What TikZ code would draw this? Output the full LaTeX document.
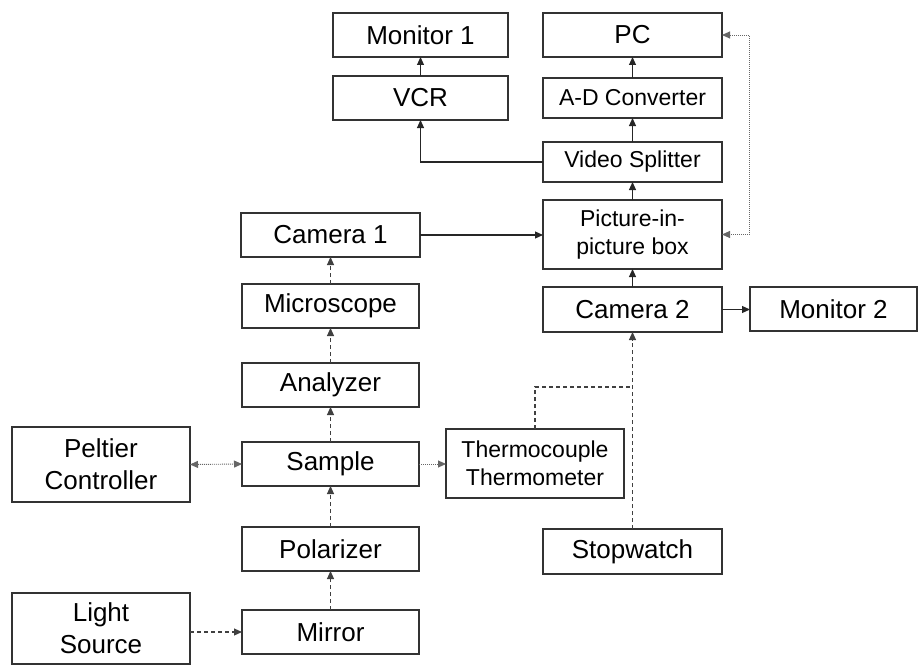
\documentclass[tikz,border=0pt]{standalone}
\usepackage{fontspec}
\setmainfont{Liberation Sans}
\usetikzlibrary{arrows.meta}
\tikzset{
  box/.style={draw=black!80, line width=1.1pt, fill=white, inner sep=0pt, outer sep=0pt,
    align=center, font=\fontsize{26}{32}\selectfont},
  smalltext/.style={font=\fontsize{23}{28}\selectfont},
  tip/.style={-{Triangle[length=8pt,width=7pt]}},
  solidline/.style={draw=black!85, line width=1.1pt, tip},
  dashline/.style={draw=black!75, line width=1.1pt, dash pattern=on 4pt off 3pt},
  dotline/.style={draw=black!60, line width=0.9pt, dash pattern=on 1pt off 1pt},
}
\begin{document}
\begin{tikzpicture}[x=1pt,y=-1pt]
\useasboundingbox (0,0) rectangle (920,666);
% nodes
\node[box, minimum width=175pt, minimum height=44pt] (mon1) at (420.5,35) {Monitor 1};
\node[box, minimum width=175pt, minimum height=44pt] (vcr) at (420.5,98) {VCR};
\node[box, minimum width=179pt, minimum height=44pt] (pc) at (632.5,35) {PC};
\node[box, smalltext, minimum width=179pt, minimum height=40pt] (adc) at (632.5,98) {A-D Converter};
\node[box, smalltext, minimum width=179pt, minimum height=40pt] (split) at (632.5,162) {Video Splitter};
\node[box, smalltext, minimum width=179pt, minimum height=69pt] (pip) at (632.5,234.5) {Picture-in-\\picture box};
\node[box, minimum width=179pt, minimum height=44pt] (cam1) at (330.5,235) {Camera 1};
\node[box, minimum width=179pt, minimum height=45pt] (cam2) at (632.5,309.5) {Camera 2};
\node[box, minimum width=167pt, minimum height=44pt] (mon2) at (833.5,309) {Monitor 2};
\node[box, minimum width=177pt, minimum height=44pt] (micro) at (330.5,306) {Microscope};
\node[box, minimum width=177pt, minimum height=44pt] (analyzer) at (330.5,385) {Analyzer};
\node[box, minimum width=177pt, minimum height=44pt] (sample) at (330.5,464) {Sample};
\node[box, smalltext, minimum width=178pt, minimum height=69pt] (thermo) at (535,463.5) {Thermocouple\\Thermometer};
\node[box, minimum width=178pt, minimum height=75pt] (peltier) at (101,464.5) {Peltier\\Controller};
\node[box, minimum width=177pt, minimum height=44pt] (polarizer) at (330.5,549) {Polarizer};
\node[box, minimum width=179pt, minimum height=45pt] (stop) at (632.5,551.5) {Stopwatch};
\node[box, minimum width=178pt, minimum height=71pt] (light) at (101,628.5) {Light\\Source};
\node[box, minimum width=177pt, minimum height=44pt] (mirror) at (330.5,632) {Mirror};
% coordinates
\coordinate (pcr) at (749,35);
\coordinate (join) at (632.5,387);
% solid connectors
\draw[solidline] (vcr.north) -- (mon1.south);
\draw[solidline] (adc.north) -- (pc.south);
\draw[solidline] (split.north) -- (adc.south);
\draw[solidline] (pip.north) -- (split.south);
\draw[solidline] (cam2.north) -- (pip.south);
\draw[solidline] (split.west) -| (vcr.south);
\draw[solidline] (cam1.east) -- (cam1.east -| pip.west);
\draw[solidline] (cam2.east) -- (cam2.east -| mon2.west);
% dashed connectors
\draw[dashline, tip] (mirror.west -| light.east) -- (mirror.west);
\draw[dashline, tip] (mirror.north) -- (polarizer.south);
\draw[dashline, tip] (polarizer.north) -- (sample.south);
\draw[dashline, tip] (sample.north) -- (analyzer.south);
\draw[dashline, tip] (analyzer.north) -- (micro.south);
\draw[dashline, tip] (micro.north) -- (cam1.south);
\draw[dashline, tip] (stop.north) -- (cam2.south);
\draw[dashline] (thermo.north) |- (join);
% dotted connectors
\draw[dotline, {Triangle[length=8pt,width=7pt]}-{Triangle[length=8pt,width=7pt]}] (peltier.east) -- (sample.west);
\draw[dotline, tip] (sample.east) -- (sample.east -| thermo.west);
\draw[dotline, {Triangle[length=8pt,width=7pt]}-{Triangle[length=8pt,width=7pt]}] (pc.east) -- (pcr) |- (pip.east);
\end{tikzpicture}
\end{document}
